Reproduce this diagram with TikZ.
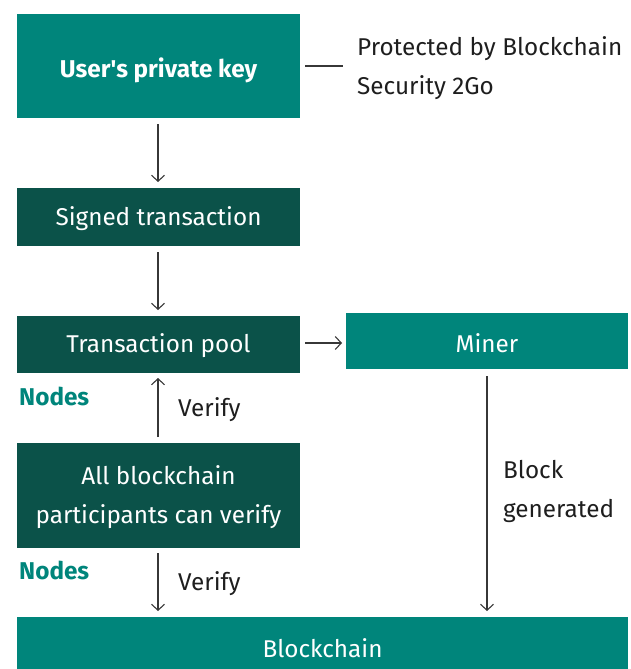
\documentclass[tikz,border=0pt]{standalone}
\usepackage{fontspec}
\setmainfont{Fira Sans}[Ligatures=TeXOff]
\usetikzlibrary{arrows.meta}
\definecolor{teal1}{RGB}{0,133,123}
\definecolor{dteal}{RGB}{11,82,73}
\definecolor{ink}{RGB}{30,30,30}
\definecolor{arr}{RGB}{55,55,55}
\newcommand{\fsz}{\fontsize{24.3}{39}\selectfont}
\tikzset{
  box/.style={inner sep=0pt, text=white, font=\fsz, align=center},
  lbl/.style={inner sep=0pt, anchor=west, text=ink, font=\fsz, align=left},
  nodes lbl/.style={inner sep=0pt, anchor=west, text=teal1, font=\fsz\bfseries},
  conn/.style={draw=arr, line width=1.1pt, -{Straight Barb[length=6pt,width=13pt,line width=1.1pt]}},
  plain/.style={draw=arr, line width=1.1pt}
}
\begin{document}
\begin{tikzpicture}[x=1pt,y=-1pt]
\useasboundingbox (0,0) rectangle (630,669);
% boxes
\fill[teal1] (17,14) rectangle (300,118);
\node[box, font=\fsz\bfseries] (key) at (158.5,70) {User's private key};
\fill[dteal] (17,188) rectangle (300,246);
\node[box] (signed) at (158.5,219) {Signed transaction};
\fill[dteal] (17,316) rectangle (300,373);
\node[box] (pool) at (158.5,346) {Transaction pool};
\fill[teal1] (346,313) rectangle (628,369);
\node[box] (miner) at (487,343) {Miner};
\fill[dteal] (17,443) rectangle (300,548);
\node[box] (all) at (158.5,497) {All blockchain\\participants can verify};
\fill[teal1] (17,617) rectangle (628,675);
\node[box] (chain) at (322.5,648) {Blockchain};
% coordinates for connectors
\coordinate (k1) at (158,124);
\coordinate (s0) at (158,182);
\coordinate (s1) at (158,252);
\coordinate (p0) at (158,310);
\coordinate (p1) at (305,343);
\coordinate (m0) at (342,343);
\coordinate (a0) at (158,437);
\coordinate (p2) at (158,378);
\coordinate (a1) at (158,553);
\coordinate (c0) at (158,611);
\coordinate (m1) at (487,376);
\coordinate (c1) at (487,611);
\coordinate (l0) at (305,66);
\coordinate (l1) at (343,66);
\draw[conn] (k1) -- (s0);
\draw[conn] (s1) -- (p0);
\draw[conn] (p1) -- (m0);
\draw[conn] (a0) -- (p2);
\draw[conn] (a1) -- (c0);
\draw[conn] (m1) -- (c1);
\draw[plain] (l0) -- (l1);
% labels
\node[lbl] (prot) at (357,68) {Protected by Blockchain\\Security 2Go};
\node[nodes lbl] (n1) at (19,396) {Nodes};
\node[nodes lbl] (n2) at (19,570) {Nodes};
\node[lbl] (v1) at (178,410) {Verify};
\node[lbl] (v2) at (178,584) {Verify};
\node[lbl] (bg) at (503,491) {Block\\generated};
\end{tikzpicture}
\end{document}
